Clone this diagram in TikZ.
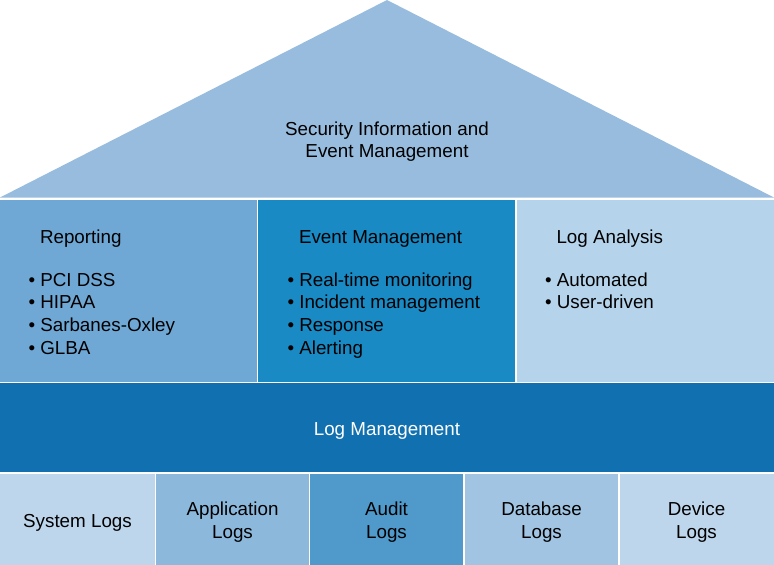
\documentclass[tikz,border=0pt]{standalone}
\usepackage{fontspec}
\setmainfont{Liberation Sans}
\definecolor{roofc}{HTML}{98BCDE}
\definecolor{repc}{HTML}{6FA8D5}
\definecolor{evc}{HTML}{1A8AC4}
\definecolor{lac}{HTML}{B5D4EB}
\definecolor{lmc}{HTML}{1070B0}
\definecolor{sysc}{HTML}{BED6EC}
\definecolor{appc}{HTML}{8CB8DC}
\definecolor{audc}{HTML}{4F9ACB}
\definecolor{dbc}{HTML}{A0C4E2}
\definecolor{devc}{HTML}{BED6EC}
\tikzset{
  panel/.style={draw=white,line width=1.5pt},
  txt/.style={inner sep=0pt,outer sep=0pt,anchor=base west,font=\fontsize{18.8}{22.7}\selectfont,text=black},
  ctxt/.style={inner sep=0pt,outer sep=0pt,anchor=base,font=\fontsize{18.8}{22.7}\selectfont,text=black},
}
\begin{document}
\begin{tikzpicture}[x=1pt,y=-1pt]
\useasboundingbox (0,0) rectangle (774,565);
% roof
\fill[roofc] (0,197.5) -- (387,0) -- (774,197.5) -- cycle;
% middle panels
\filldraw[panel,fill=repc] (-1,199) rectangle (257.5,382.5);
\filldraw[panel,fill=evc] (257.5,199) rectangle (516,382.5);
\filldraw[panel,fill=lac] (516,199) rectangle (775,382.5);
% log management
\filldraw[panel,fill=lmc] (-1,382.5) rectangle (775,473);
% bottom boxes
\filldraw[panel,fill=sysc] (-1,473) rectangle (155.5,566);
\filldraw[panel,fill=appc] (155.5,473) rectangle (309.5,566);
\filldraw[panel,fill=audc] (309.5,473) rectangle (464,566);
\filldraw[panel,fill=dbc] (464,473) rectangle (619,566);
\filldraw[panel,fill=devc] (619,473) rectangle (775,566);

% roof text
\node[ctxt] (siem1) at (387,135) {Security Information and};
\node[ctxt] (siem2) at (387,157) {Event Management};

% headings
\node[txt] (rephead) at (40,243) {Reporting};
\node[txt] (evhead) at (299,243) {Event Management};
\node[txt] (lahead) at (556.5,243) {Log Analysis};

% bullets
\foreach \t [count=\i] in {PCI DSS, HIPAA, Sarbanes-Oxley, GLBA}
  \node[txt] (rep\i) at (28.5,{286+22.7*(\i-1)}) {\textbullet\ \t};
\foreach \t [count=\i] in {Real-time monitoring, Incident management, Response, Alerting}
  \node[txt] (ev\i) at (287.5,{286+22.7*(\i-1)}) {\textbullet\ \t};
\foreach \t [count=\i] in {Automated, User-driven}
  \node[txt] (la\i) at (545,{286+22.7*(\i-1)}) {\textbullet\ \t};

% log management
\node[ctxt,text=white] (lm) at (387,435) {Log Management};

% bottom texts
\node[ctxt] (sys) at (77.5,527) {System Logs};
\node[ctxt] (app1) at (232.5,515) {Application};
\node[ctxt] (app2) at (232.5,538) {Logs};
\node[ctxt] (aud1) at (386.5,515) {Audit};
\node[ctxt] (aud2) at (386.5,538) {Logs};
\node[ctxt] (db1) at (541.5,515) {Database};
\node[ctxt] (db2) at (541.5,538) {Logs};
\node[ctxt] (dev1) at (696.5,515) {Device};
\node[ctxt] (dev2) at (696.5,538) {Logs};
\end{tikzpicture}
\end{document}
